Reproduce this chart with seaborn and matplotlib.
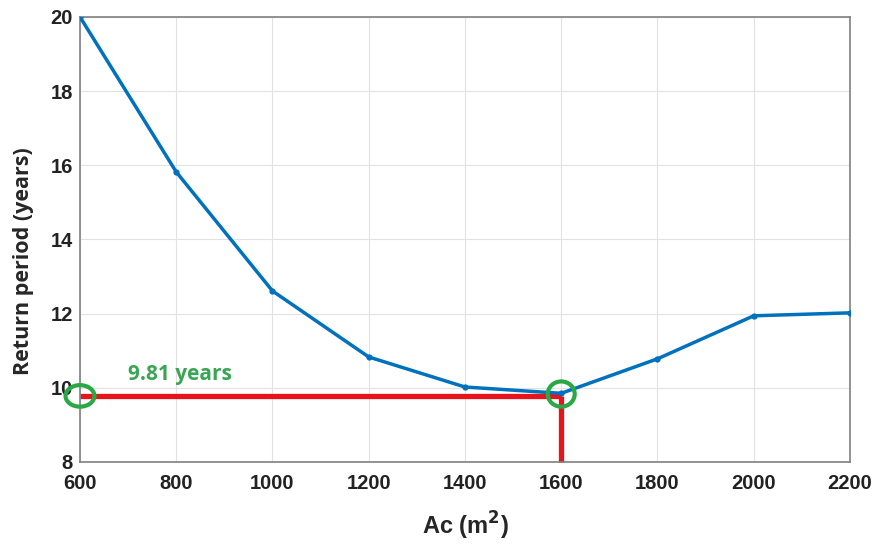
import matplotlib
matplotlib.use("Agg")
import matplotlib.pyplot as plt
from matplotlib.patches import Ellipse
import seaborn as sns
import pandas as pd

area = [600, 800, 1000, 1200, 1400, 1600, 1800, 2000, 2200]
return_period = [20.0, 15.82, 12.61, 10.83, 10.02, 9.85, 10.78, 11.94, 12.02]
x_ticks = [600, 800, 1000, 1200, 1400, 1600, 1800, 2000, 2200]
y_ticks = [8, 10, 12, 14, 16, 18, 20]
optimum_area = 1600
optimum_period = 9.78
annotation_text = "9.81 years"

sns.set_theme(style="whitegrid")
plt.rcParams['font.family'] = ['Liberation Sans', 'DejaVu Sans']

df = pd.DataFrame({"area": area, "rp": return_period})

fig = plt.figure(figsize=(8.75, 5.46), dpi=100)
ax = fig.add_axes([0.0914, 0.154, 0.8800, 0.815])

# red guide lines
ax.plot([x_ticks[0], optimum_area], [optimum_period, optimum_period], color="#e8141c", lw=3.8,
        solid_capstyle="butt", zorder=2)
ax.plot([optimum_area, optimum_area], [y_ticks[0], optimum_period], color="#e8141c", lw=3.8,
        solid_capstyle="butt", zorder=2, clip_on=False)

sns.lineplot(data=df, x="area", y="rp", ax=ax, color="#0072BD", lw=2.5, marker="o",
             markersize=4.5, markeredgewidth=0, zorder=3)

# green circles
ax.add_patch(Ellipse((x_ticks[0], optimum_period), 60, 0.58, fill=False, edgecolor="#2aa845",
                     lw=3, clip_on=False, zorder=4))
ax.add_patch(Ellipse((optimum_area, optimum_period + 0.05), 56, 0.68, fill=False, edgecolor="#2aa845",
                     lw=3, clip_on=False, zorder=4))
ax.text(700, 10.36, annotation_text, color="#3aa655", fontsize=15, fontweight="bold",
        family=["Open Sans", "DejaVu Sans"], va="center", ha="left")

ax.set_xlim(600, 2200)
ax.set_ylim(8, 20)
ax.set_xticks(x_ticks)
ax.set_yticks(y_ticks)
ax.set_xticklabels([str(v) for v in x_ticks], fontsize=14.5, fontweight="bold")
ax.set_yticklabels([str(v) for v in y_ticks], fontsize=14.5, fontweight="bold")
ax.set_xlabel("Ac (m$^\\mathbf{2}$)", fontsize=17, fontweight="bold", labelpad=12)
ax.set_ylabel("Return period (years)", fontsize=15.5, fontweight="bold",
              family=["Open Sans", "DejaVu Sans"])
ax.yaxis.set_label_coords(-0.060, 0.452)

ax.grid(True, color="#e2e2e2", lw=0.8)
for s in ax.spines.values():
    s.set_visible(True)
    s.set_color("#808080")
    s.set_linewidth(1.2)
ax.tick_params(axis="both", which="both", direction="in", length=4, color="#404040",
               labelcolor="#222222")
ax.tick_params(axis="x", pad=9)
ax.tick_params(axis="y", pad=5)
ax.set_facecolor("white")

fig.savefig("out.png", dpi=100)
